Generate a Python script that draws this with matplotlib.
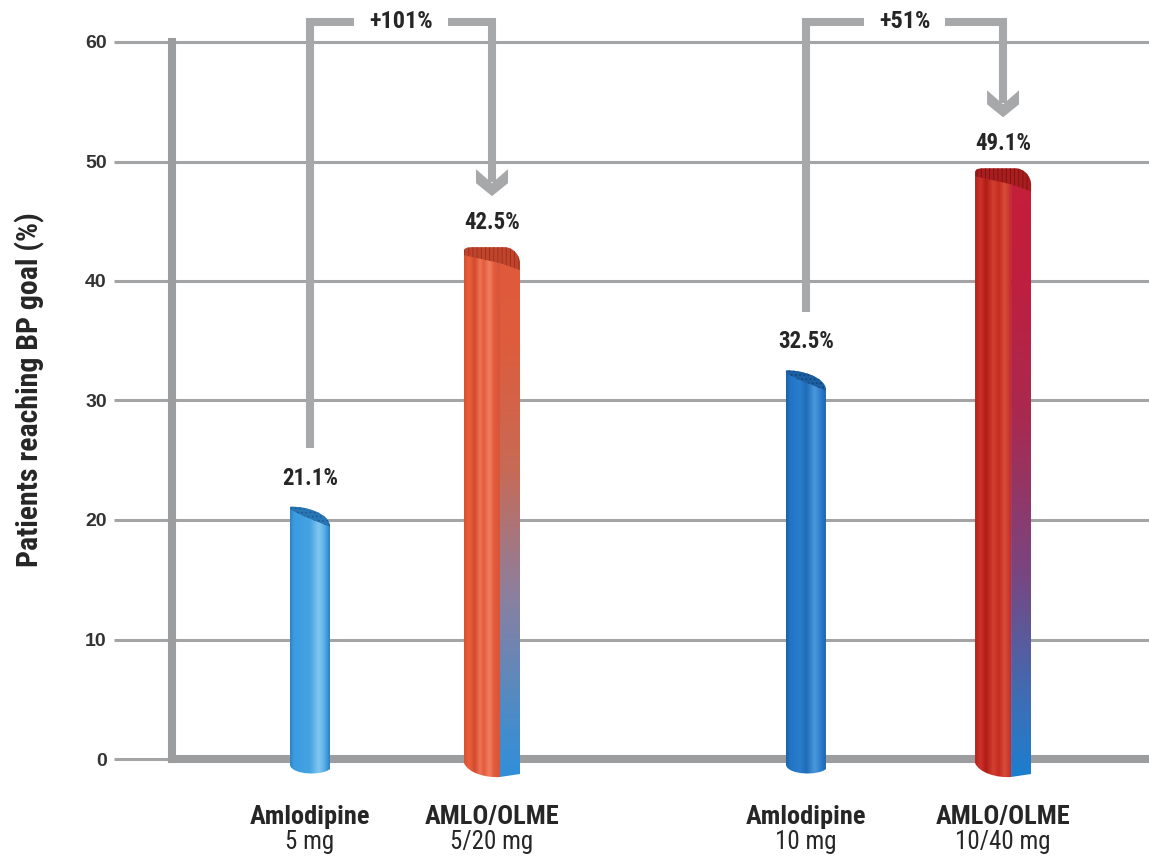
import numpy as np
import matplotlib
matplotlib.use("Agg")
import matplotlib.pyplot as plt
from matplotlib import font_manager as fm
from matplotlib.path import Path
from matplotlib.patches import PathPatch, Polygon
from matplotlib.colors import to_rgb

# ---- data -------------------------------------------------------------
drugs = ["Amlodipine", "AMLO/OLME", "Amlodipine", "AMLO/OLME"]
doses = ["5 mg", "5/20 mg", "10 mg", "10/40 mg"]
goal_pct = [21.1, 42.5, 32.5, 49.1]
increases = ["+101%", "+51%"]
y_ticks = [0, 10, 20, 30, 40, 50, 60]

# ---- fonts: prefer a condensed sans if one is installed ---------------
def pick_narrow():
    fonts = fm.fontManager.ttflist
    names = {f.name for f in fonts}
    for fam in ["Liberation Sans Narrow", "Roboto Condensed", "Open Sans Condensed",
                "DejaVu Sans Condensed", "Noto Sans Condensed"]:
        if fam in names:
            return [fam, "DejaVu Sans"], "normal", 1.0
    for fam in ["Roboto", "Open Sans", "Noto Sans", "DejaVu Sans", "Inter", "Lato"]:
        for f in fonts:
            if f.name == fam and str(f.stretch) in ("condensed", "semi-condensed", "75", "87.5"):
                return [fam, "DejaVu Sans"], "condensed", 1.0
    return ["Liberation Sans", "DejaVu Sans"], "normal", 0.86


NARROW, STRETCH, SCALE = pick_narrow()
GRID = "#a3a4a6"
AXIS = "#9c9d9f"
BRACKET = "#a7a8aa"
TEXT = "#262626"
plt.rcParams["hatch.linewidth"] = 0.6


def ntext(size, weight="bold"):
    return dict(family=NARROW, fontstretch=STRETCH, fontsize=size * SCALE,
                fontweight=weight, color=TEXT)


W, H, DPI = 1149, 860, 100
fig = plt.figure(figsize=(W / DPI, H / DPI), dpi=DPI)
fig.patch.set_facecolor("white")

# axes frame in pixels
ax_left_px, ax_right_px = 172, 1149
y0_px, y60_px = 759, 42
ppu_y = (y0_px - y60_px) / 60.0
ymin, ymax = -2.0, 60.4
ax_bottom_px = y0_px + (-ymin) * ppu_y
ax_top_px = y60_px - (ymax - 60) * ppu_y
ax = fig.add_axes([ax_left_px / W, 1 - ax_bottom_px / H,
                   (ax_right_px - ax_left_px) / W,
                   (ax_bottom_px - ax_top_px) / H])

xpos = [0.0, 1.0, 2.725, 3.808]
ppu_x = 182.0
first_px = 310
xmin = (ax_left_px - first_px) / ppu_x
xmax = (ax_right_px - first_px) / ppu_x


def px_x(p):
    return p / ppu_x


def px_y(p):
    return p / ppu_y


def gradient(stops, n=200):
    t = np.linspace(0, 1, n)
    pos = [s[0] for s in stops]
    cols = np.array([to_rgb(s[1]) for s in stops])
    return np.stack([np.interp(t, pos, cols[:, k]) for k in range(3)], axis=-1)


def fill_gradient(path, stops, extent, horizontal=True, z=4):
    g = gradient(stops)
    img = g[np.newaxis, :, :] if horizontal else g[::-1, np.newaxis, :]
    clip = PathPatch(path, transform=ax.transData, facecolor="none", edgecolor="none")
    im = ax.imshow(img, extent=extent, aspect="auto", interpolation="bilinear",
                   zorder=z, origin="upper")
    im.set_clip_path(clip)


M, L4, C4, CL = Path.MOVETO, Path.LINETO, Path.CURVE4, Path.CLOSEPOLY


def draw_round_bar(c, v, stops, cap_color, hatch_color):
    hw = px_x(20)
    L, R = c - hw, c + hw
    body = Path([(L, v), (L, -px_y(6)),
                 (L + px_x(2), -px_y(16)), (R - px_x(8), -px_y(17)), (R, -px_y(10)),
                 (R, v - px_y(20)),
                 (R, v - px_y(6)), (L + px_x(14), v + px_y(1)), (L, v),
                 (L, v)],
                [M, L4, C4, C4, C4, L4, C4, C4, C4, CL])
    fill_gradient(body, stops, [L, R, -px_y(20), v + px_y(2)])
    cap = Path([(L, v),
                (L + px_x(14), v + px_y(1)), (R, v - px_y(6)), (R, v - px_y(20)),
                (R - px_x(12), v - px_y(15)), (L + px_x(6), v - px_y(7)), (L, v - px_y(2)),
                (L, v)],
               [M, C4, C4, C4, C4, C4, C4, CL])
    ax.add_patch(PathPatch(cap, facecolor=cap_color, edgecolor=hatch_color,
                           hatch="....", linewidth=0, zorder=5))


def draw_square_bar(c, v, left_stops, right_stops, cap_color, hatch_color):
    L, R = c - px_x(28), c + px_x(28)
    Mx = L + px_x(36)
    left_face = Path([(L, v), (L, -px_y(4)),
                      (L + px_x(4), -px_y(14)), (Mx - px_x(14), -px_y(19)), (Mx, -px_y(18)),
                      (Mx, v), (L, v)],
                     [M, L4, C4, C4, C4, L4, CL])
    fill_gradient(left_face, left_stops, [L, Mx, -px_y(22), v + px_y(2)])
    right_face = Path([(Mx, v - px_y(10)), (Mx, -px_y(18)), (R, -px_y(15)),
                       (R, v - px_y(12)), (Mx, v - px_y(10))],
                      [M, L4, L4, L4, CL])
    fill_gradient(right_face, right_stops, [Mx, R, -px_y(22), v - px_y(8)],
                  horizontal=False)
    cap = Path([(L, v - px_y(4)), (L, v),
                (L, v + px_y(3)), (L + px_x(3), v + px_y(4)), (L + px_x(9), v + px_y(4)),
                (R - px_x(16), v + px_y(4)),
                (R - px_x(6), v + px_y(4)), (R, v - px_y(5)), (R, v - px_y(12)),
                (R, v - px_y(19)), (Mx, v - px_y(12)), (L, v - px_y(4)),
                (L, v - px_y(4))],
               [M, L4, C4, C4, C4, L4, C4, C4, C4, L4, L4, L4, CL])
    ax.add_patch(PathPatch(cap, facecolor=cap_color, edgecolor=hatch_color,
                           hatch="||||", linewidth=0, zorder=5))


blue_light = [(0, "#2d84c4"), (0.1, "#3b9ce0"), (0.5, "#45a3e2"),
              (0.72, "#82c6f0"), (0.86, "#5ab0e8"), (1, "#2a80c2")]
blue_dark = [(0, "#1a62aa"), (0.1, "#2274c4"), (0.35, "#2a7ccc"), (0.5, "#1f6cb8"),
             (0.7, "#4a98dc"), (0.86, "#2c7ccb"), (1, "#1a5fa5")]
orange_left = [(0, "#d9512f"), (0.15, "#e8603e"), (0.3, "#d24a2c"), (0.45, "#ee7556"),
               (0.55, "#e35b3b"), (0.7, "#f08060"), (0.85, "#e05a3a"), (1, "#d8553a")]
orange_right = [(0, "#2f8fdb"), (0.12, "#4a8cc8"), (0.35, "#8a80a0"),
                (0.6, "#c86a55"), (0.85, "#de5c3c"), (1, "#e05a3a")]
crimson_left = [(0, "#b8201c"), (0.15, "#cc3328"), (0.3, "#b01c18"), (0.5, "#d2402f"),
                (0.65, "#c42a22"), (0.8, "#d85038"), (1, "#c0262a")]
crimson_right = [(0, "#1a7fd0"), (0.12, "#3a70b8"), (0.35, "#7a4580"),
                 (0.6, "#a82a50"), (0.85, "#c01e3e"), (1, "#c41e3a")]

draw_round_bar(xpos[0], goal_pct[0], blue_light, "#2a76b4", "#175a92")
draw_square_bar(xpos[1], goal_pct[1], orange_left, orange_right, "#c0442c", "#9a2f1c")
draw_round_bar(xpos[2], goal_pct[2], blue_dark, "#1c5e9e", "#0f4278")
draw_square_bar(xpos[3], goal_pct[3], crimson_left, crimson_right, "#a81e1e", "#7c1010")

# ---- axes, grid, ticks ------------------------------------------------
ax.set_xlim(xmin, xmax)
ax.set_ylim(ymin, ymax)
ax.set_yticks(y_ticks)
ax.set_yticklabels([str(t) for t in y_ticks], fontweight="bold",
                   family=["Liberation Sans", "DejaVu Sans"])
ax.set_xticks([])
ax.set_axisbelow(True)
ax.yaxis.grid(True, color=GRID, linewidth=2.2)
ax.tick_params(axis="y", length=42, width=2.2, color=GRID, pad=5,
               labelsize=14, labelcolor="#333333")
for side in ("top", "right"):
    ax.spines[side].set_visible(False)
ax.spines["left"].set_bounds(0, 60)
ax.spines["left"].set_linewidth(5.8)
ax.spines["left"].set_color(AXIS)
ax.spines["bottom"].set_position(("data", 0))
ax.spines["bottom"].set_linewidth(5.8)
ax.spines["bottom"].set_color(AXIS)
ax.patch.set_visible(False)

fig.text(30 / W, 1 - 390 / H, "Patients reaching BP goal (%)", rotation=90,
         ha="center", va="center", **ntext(21.5))

# value labels and category labels
label_y = []
for x, v, drug, dose in zip(xpos, goal_pct, drugs, doses):
    ly = v + 2.4
    label_y.append(ly)
    ax.text(x, ly, f"{v:.1f}%", ha="center", va="center", zorder=6, **ntext(16.5))
    ax.text(x, -4.85, drug, ha="center", va="center", clip_on=False, **ntext(19))
    ax.text(x, -6.95, dose, ha="center", va="center", clip_on=False,
            **ntext(18, "normal"))

# ---- increase brackets -----------------------------------------------
fig.canvas.draw()
renderer = fig.canvas.get_renderer()
top_y = 61.7
for (i, j), txt in zip([(0, 1), (2, 3)], increases):
    xa, xb = xpos[i], xpos[j]
    mid = (xa + xb) / 2
    t = ax.text(mid, top_y, txt, ha="center", va="center", clip_on=False, **ntext(17.5))
    half = t.get_window_extent(renderer).width / 2 + 15
    gap = px_x(half)
    y_start = label_y[i] + 2.5
    tip = label_y[j] + 2.2
    kw = dict(color=BRACKET, linewidth=5.8, solid_capstyle="butt",
              solid_joinstyle="miter", clip_on=False, zorder=2)
    ax.plot([xa, xa, mid - gap], [y_start, top_y, top_y], **kw)
    ax.plot([mid + gap, xb, xb], [top_y, top_y, tip + px_y(14)], **kw)
    hw = px_x(16)
    chevron = [(xb - hw, tip + px_y(27)), (xb, tip + px_y(13)), (xb + hw, tip + px_y(27)),
               (xb + hw, tip + px_y(13)), (xb, tip), (xb - hw, tip + px_y(13))]
    ax.add_patch(Polygon(chevron, closed=True, facecolor=BRACKET, edgecolor="none",
                         clip_on=False, zorder=2))

fig.savefig("out.png", dpi=DPI, facecolor="white")
